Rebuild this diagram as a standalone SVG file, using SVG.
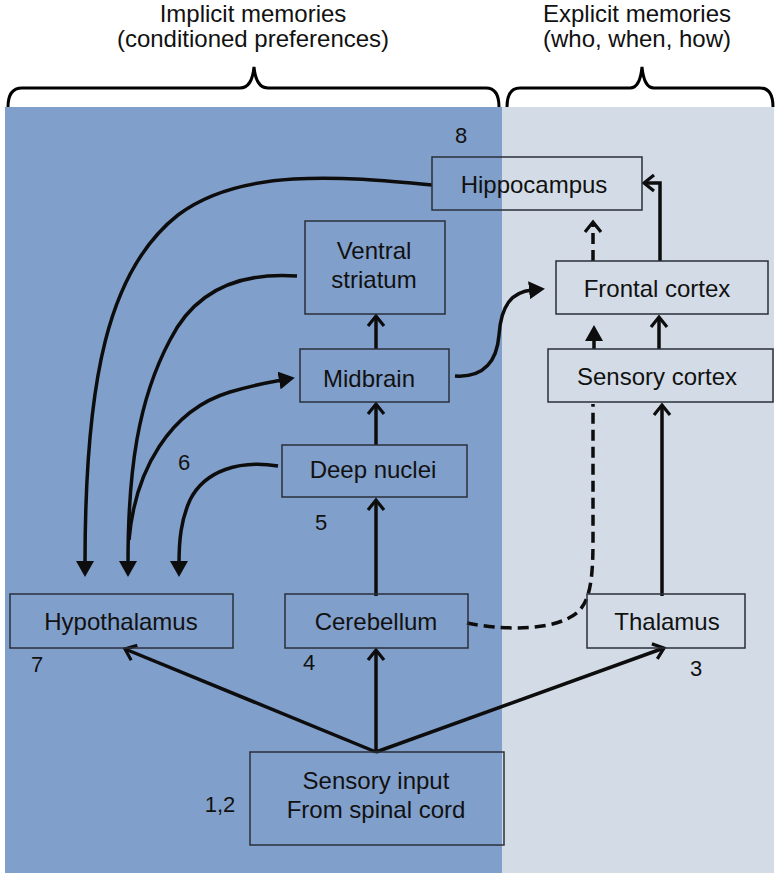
<svg xmlns="http://www.w3.org/2000/svg" width="778" height="881" viewBox="0 0 778 881">
  <defs>
    <style>
      text { font-family: "Liberation Sans", Arial, sans-serif; fill: #111; }
      .lbl { font-size: 24px; text-anchor: middle; }
      .num { font-size: 22px; text-anchor: middle; }
      .hdr { font-size: 24px; text-anchor: middle; }
      .box { fill: none; stroke: #2a2f3a; stroke-width: 1.5; }
      .ln { fill: none; stroke: #0d0d0d; stroke-width: 3.5; }
      .dash { fill: none; stroke: #0d0d0d; stroke-width: 3.5; stroke-dasharray: 11 6; }
      .brace { fill: none; stroke: #000; stroke-width: 3; }
    </style>
    <marker id="tri" markerUnits="userSpaceOnUse" viewBox="0 0 16 18" refX="3" refY="9" markerWidth="16" markerHeight="18" orient="auto">
      <path d="M0,0 L16,9 L0,18 z" fill="#0d0d0d"/>
    </marker>
    <marker id="chev" markerUnits="userSpaceOnUse" viewBox="-2 -2 16 20" refX="10" refY="8" markerWidth="16" markerHeight="20" orient="auto">
      <path d="M0,0 L10,8 L0,16" fill="none" stroke="#0d0d0d" stroke-width="3.2"/>
    </marker>
  </defs>

  <!-- background panels -->
  <rect x="5" y="107" width="497" height="766" fill="#819fcb"/>
  <rect x="502" y="107" width="272" height="766" fill="#d3dce6"/>

  <!-- headers and braces -->
  <g id="header-implicit">
    <text class="hdr" x="253" y="22">Implicit memories</text>
    <text class="hdr" x="253" y="47">(conditioned preferences)</text>
    <path class="brace" d="M8,107 Q8,88 22,88 L240,88 Q252,88 254,67 Q256,88 268,88 L486,88 Q499,88 499,107"/>
  </g>
  <g id="header-explicit">
    <text class="hdr" x="637" y="22">Explicit memories</text>
    <text class="hdr" x="637" y="47">(who, when, how)</text>
    <path class="brace" d="M507,107 Q507,88 520,88 L630,88 Q640,88 642,67 Q644,88 654,88 L760,88 Q773,88 773,107"/>
  </g>

  <!-- connectors -->
  <g id="connectors">
    <!-- sensory input fan -->
    <path class="ln" d="M376,752 L125,649" marker-end="url(#chev)"/>
    <path class="ln" d="M376,752 L376,650" marker-end="url(#chev)"/>
    <path class="ln" d="M376,752 L664,648" marker-end="url(#chev)"/>
    <!-- left column upward -->
    <path class="ln" d="M376,596 L376,500" marker-end="url(#chev)"/>
    <path class="ln" d="M376,445 L376,404" marker-end="url(#chev)"/>
    <path class="ln" d="M376,349 L376,316" marker-end="url(#chev)"/>
    <!-- right column upward -->
    <path class="ln" d="M662,596 L662,405" marker-end="url(#chev)"/>
    <path class="ln" d="M659,349 L659,317" marker-end="url(#chev)"/>
    <path class="ln" d="M660,261 L660,183 L644,183" marker-end="url(#chev)"/>
    <!-- dashed frontal to hippocampus -->
    <path class="dash" d="M593,261 L593,222" marker-end="url(#chev)"/>
    <!-- dashed cerebellum to frontal cortex (behind sensory cortex) -->
    <path class="dash" d="M467,623 C500,630 555,632 578,612 C590,600 593,580 593,540 L593,404"/>
    <path class="ln" d="M594,349 L594,338" marker-end="url(#tri)"/>
    <!-- midbrain squiggle to frontal cortex -->
    <path class="ln" d="M455,376 C485,378 497,360 499,335 C501,305 512,292 532,290" marker-end="url(#tri)"/>
    <!-- hippocampus to hypothalamus -->
    <path class="ln" d="M432,185 C340,176 240,168 178,215 C108,270 85,380 85,564" marker-end="url(#tri)"/>
    <!-- ventral striatum to hypothalamus -->
    <path class="ln" d="M297,276 C240,272 195,290 170,340 C138,400 128,470 128,564" marker-end="url(#tri)"/>
    <!-- hypothalamus to midbrain -->
    <path class="ln" d="M129,540 C135,470 170,410 230,392 C250,386 265,383 282,380" marker-end="url(#tri)"/>
    <!-- deep nuclei to hypothalamus -->
    <path class="ln" d="M278,466 C240,460 205,470 190,500 C181,520 179,540 179,564" marker-end="url(#tri)"/>
  </g>

  <!-- nodes -->
  <g id="hippocampus">
    <rect class="box" x="432" y="157" width="210" height="53"/>
    <text class="lbl" x="534" y="193">Hippocampus</text>
  </g>
  <g id="ventral-striatum">
    <rect class="box" x="305" y="221" width="140" height="93"/>
    <text class="lbl" x="374" y="259">Ventral</text>
    <text class="lbl" x="374" y="288">striatum</text>
  </g>
  <g id="midbrain">
    <rect class="box" x="300" y="349" width="149" height="53"/>
    <text class="lbl" x="369" y="387">Midbrain</text>
  </g>
  <g id="deep-nuclei">
    <rect class="box" x="282" y="445" width="185" height="52"/>
    <text class="lbl" x="373" y="478">Deep nuclei</text>
  </g>
  <g id="frontal-cortex">
    <rect class="box" x="556" y="261" width="212" height="53"/>
    <text class="lbl" x="657" y="297">Frontal cortex</text>
  </g>
  <g id="sensory-cortex">
    <rect x="548" y="349" width="225" height="53" fill="#d3dce6" stroke="#2a2f3a" stroke-width="1.5"/>
    <text class="lbl" x="657" y="385">Sensory cortex</text>
  </g>
  <g id="hypothalamus">
    <rect class="box" x="10" y="594" width="223" height="54"/>
    <text class="lbl" x="121" y="630">Hypothalamus</text>
  </g>
  <g id="cerebellum">
    <rect class="box" x="285" y="594" width="183" height="54"/>
    <text class="lbl" x="376" y="630">Cerebellum</text>
  </g>
  <g id="thalamus">
    <rect class="box" x="587" y="594" width="158" height="54"/>
    <text class="lbl" x="667" y="630">Thalamus</text>
  </g>
  <g id="sensory-input">
    <rect class="box" x="250" y="752" width="254" height="93"/>
    <text class="lbl" x="376" y="789">Sensory input</text>
    <text class="lbl" x="376" y="818">From spinal cord</text>
  </g>

  <!-- step numbers -->
  <g id="numbers">
    <text class="num" x="461" y="143">8</text>
    <text class="num" x="184" y="470">6</text>
    <text class="num" x="321" y="530">5</text>
    <text class="num" x="37" y="672">7</text>
    <text class="num" x="309" y="670">4</text>
    <text class="num" x="696" y="676">3</text>
    <text class="num" x="220" y="812">1,2</text>
  </g>
</svg>
